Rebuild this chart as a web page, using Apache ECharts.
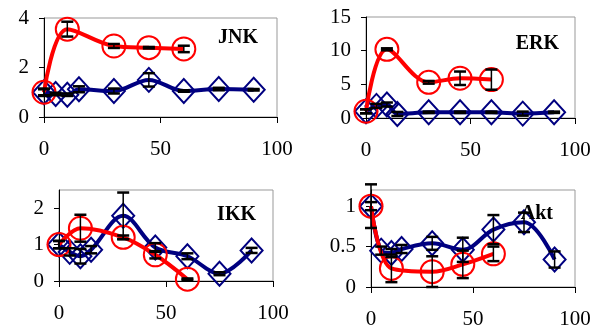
<!DOCTYPE html>
<html>
<head>
<meta charset="utf-8">
<script src="https://cdn.jsdelivr.net/npm/echarts@6/dist/echarts.min.js"></script>
<style>
  html, body { margin: 0; padding: 0; background: #fff; }
  #chart { width: 601px; height: 330px; }
</style>
</head>
<body>
<div id="chart"></div>
<script>
// time points (min)
const blueTimes = [0, 5, 10, 15, 30, 45, 60, 75, 90]
const redTimes = [0, 10, 30, 45, 60]

const panelNames = ['JNK', 'ERK', 'IKK', 'Akt']

// red circles
const jnkRed = [1.0, 3.55, 2.87, 2.8, 2.75]
const jnkRedErr = [0.12, 0.3, 0.08, 0.03, 0.13]
const erkRed = [1.0, 10.2, 5.3, 5.9, 5.7]
const erkRedErr = [0.3, 0.15, 0.2, 1.0, 1.5]
const ikkRed = [1.0, 1.45, 1.2, 0.72, 0.05]
const ikkRedErr = [0.1, 0.37, 0.05, 0.1, 0.02]
const aktRed = [1.0, 0.23, 0.19, 0.28, 0.41]
const aktRedErr = [0.27, 0.17, 0.19, 0.17, 0.09]

// blue diamonds
const jnkBlue = [1.0, 0.93, 0.9, 1.12, 1.05, 1.5, 1.05, 1.13, 1.1]
const jnkBlueErr = [0.15, 0.05, 0.05, 0.12, 0.1, 0.27, 0.03, 0.05, 0.03]
const erkBlue = [1.0, 1.8, 2.0, 0.6, 0.85, 0.85, 0.85, 0.65, 0.85]
const erkBlueErr = [0.3, 0.3, 0.3, 0.3, 0.1, 0.1, 0.1, 0.3, 0.1]
const ikkBlue = [1.0, 0.8, 0.68, 0.86, 1.79, 0.92, 0.68, 0.2, 0.84]
const ikkBlueErr = [0.1, 0.1, 0.2, 0.1, 0.64, 0.12, 0.08, 0.04, 0.07]
const aktBlue = [1.0, 0.45, 0.42, 0.47, 0.54, 0.46, 0.71, 0.8, 0.34]
const aktBlueErr = [0.05, 0.05, 0.05, 0.05, 0.08, 0.15, 0.18, 0.12, 0.1]

// y axis ranges
const yMax = [4, 15, 2.5, 1.2]
const yStep = [2, 5, 1, 0.5]

const redSets = [[jnkRed, jnkRedErr], [erkRed, erkRedErr], [ikkRed, ikkRedErr], [aktRed, aktRedErr]]
const blueSets = [[jnkBlue, jnkBlueErr], [erkBlue, erkBlueErr], [ikkBlue, ikkBlueErr], [aktBlue, aktBlueErr]]

const grids = [
  { left: 44, top: 18, width: 233, height: 99 },
  { left: 366, top: 17, width: 209, height: 101 },
  { left: 59, top: 190, width: 214, height: 91 },
  { left: 371, top: 190, width: 204, height: 97 }
]

const font = 'Liberation Serif, Times New Roman, serif'

function errBars(times, vals, errs, idx) {
  return {
    type: 'custom',
    xAxisIndex: idx,
    yAxisIndex: idx,
    silent: true,
    z: 5,
    data: times.map((t, i) => [t, vals[i] - errs[i], vals[i] + errs[i]]),
    renderItem: function (params, api) {
      const lo = api.coord([api.value(0), api.value(1)])
      const hi = api.coord([api.value(0), api.value(2)])
      const w = 6
      const st = { stroke: '#000', lineWidth: 1.5 }
      const cap = { stroke: '#000', lineWidth: 2.5 }
      return {
        type: 'group',
        children: [
          { type: 'line', shape: { x1: lo[0], y1: lo[1], x2: hi[0], y2: hi[1] }, style: st },
          { type: 'line', shape: { x1: lo[0] - w, y1: lo[1], x2: lo[0] + w, y2: lo[1] }, style: cap },
          { type: 'line', shape: { x1: hi[0] - w, y1: hi[1], x2: hi[0] + w, y2: hi[1] }, style: cap }
        ]
      }
    }
  }
}

const series = []
const titles = []
for (let i = 0; i < 4; i++) {
  const [bv, be] = blueSets[i]
  const [rv, re] = redSets[i]
  series.push({
    type: 'line',
    xAxisIndex: i,
    yAxisIndex: i,
    smooth: 0.35,
    data: blueTimes.map((t, k) => [t, bv[k]]),
    symbol: 'diamond',
    symbolSize: [22, 24],
    lineStyle: { color: '#000080', width: 4 },
    itemStyle: { color: 'rgba(0,0,0,0)', borderColor: '#000080', borderWidth: 2 },
    z: 2
  })
  series.push({
    type: 'line',
    xAxisIndex: i,
    yAxisIndex: i,
    smooth: 0.35,
    data: redTimes.map((t, k) => [t, rv[k]]),
    symbol: 'circle',
    symbolSize: 23,
    lineStyle: { color: '#ff0000', width: 4 },
    itemStyle: { color: 'rgba(0,0,0,0)', borderColor: '#ff0000', borderWidth: 2 },
    z: 3
  })
  series.push(errBars(blueTimes, bv, be, i))
  series.push(errBars(redTimes, rv, re, i))
}

const titlePos = [
  { right: 338, top: 23 },
  { right: 37, top: 29 },
  { right: 340, top: 200 },
  { right: 43, top: 199 }
]
for (let i = 0; i < 4; i++) {
  titles.push({
    text: panelNames[i],
    right: titlePos[i].right,
    top: titlePos[i].top,
    textStyle: { fontFamily: font, fontWeight: 'bold', fontSize: 20, color: '#000' }
  })
}

const myChart = echarts.init(document.getElementById('chart'), null, { renderer: 'canvas' })
myChart.setOption({
  animation: false,
  backgroundColor: '#fff',
  title: titles,
  grid: grids.map(g => Object.assign({ show: true, borderColor: '#999', borderWidth: 1, backgroundColor: '#fff' }, g)),
  xAxis: grids.map((g, i) => ({
    type: 'value',
    gridIndex: i,
    min: 0,
    max: 100,
    interval: 50,
    axisLine: { show: true, onZero: false, lineStyle: { color: '#000', width: 1 } },
    axisTick: { show: true, length: 6, lineStyle: { color: '#000' } },
    splitLine: { show: false },
    axisLabel: { margin: 22, fontFamily: font, fontSize: 21, color: '#000' }
  })),
  yAxis: grids.map((g, i) => ({
    type: 'value',
    gridIndex: i,
    min: 0,
    max: yMax[i],
    interval: yStep[i],
    axisLine: { show: true, lineStyle: { color: '#000', width: 1 } },
    axisTick: { show: true, length: 5, lineStyle: { color: '#000' } },
    splitLine: { show: false },
    axisLabel: {
      margin: 15,
      showMaxLabel: yMax[i] % yStep[i] === 0,
      fontFamily: font,
      fontSize: 21,
      color: '#000'
    }
  })),
  series: series
})
</script>
</body>
</html>
